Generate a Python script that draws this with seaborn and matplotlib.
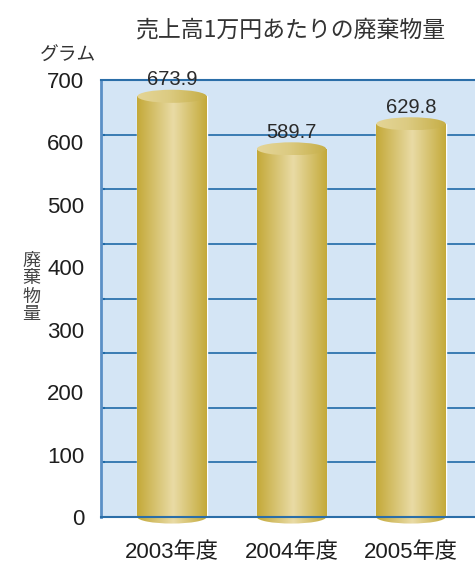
import numpy as np
import pandas as pd
import matplotlib
matplotlib.use("Agg")
import matplotlib.pyplot as plt
import seaborn as sns
from matplotlib.patches import Ellipse
from matplotlib.colors import LinearSegmentedColormap

# ---- data ----
years = ["2003年度", "2004年度", "2005年度"]
waste = [673.9, 589.7, 629.8]
ytick_values = [0, 100, 200, 300, 400, 500, 600, 700]
title = "売上高1万円あたりの廃棄物量"
unit_label = "グラム"
ylabel = "廃棄物量"

# ---- style ----
sns.set_theme(style="white")
plt.rcParams['font.family'] = ['Liberation Sans', 'Noto Sans CJK JP', 'DejaVu Sans']
TEXT = "#2a2a2a"
GRID = "#1f6aa8"
BG = "#d4e5f5"
BAR_W = 0.58
CAP_H = 21.0  # ellipse height in data units

body_cmap = LinearSegmentedColormap.from_list(
    "body", [(0.0, "#c4a938"), (0.52, "#e9dba5"), (1.0, "#c4aa3a")])
top_cmap = LinearSegmentedColormap.from_list(
    "top", [(0.0, "#e4d597"), (0.45, "#dccb82"), (1.0, "#c6ae46")])

fig = plt.figure(figsize=(4.75, 5.63), dpi=100)
ax = fig.add_axes([101 / 475, 1 - 517 / 563, 381.7 / 475, 437 / 563])

df = pd.DataFrame({"year": years, "waste": waste})
sns.barplot(data=df, x="year", y="waste", color="#c9b040", width=BAR_W,
            ax=ax, zorder=1, errorbar=None)

grad = np.linspace(0, 1, 256).reshape(1, -1)
bars = list(ax.patches)
for bar, val in zip(bars, waste):
    x0 = bar.get_x()
    w = bar.get_width()
    xc = x0 + w / 2
    h = bar.get_height()
    # body gradient
    im = ax.imshow(grad, cmap=body_cmap, extent=[x0, x0 + w, 0, h],
                   aspect="auto", zorder=1.2, interpolation="bicubic")
    im.set_clip_path(bar)
    # bottom ellipse (below the axis line)
    be = Ellipse((xc, 0), w, CAP_H, facecolor="none", edgecolor="none",
                 clip_on=False)
    ax.add_patch(be)
    imb = ax.imshow(grad, cmap=body_cmap,
                    extent=[x0, x0 + w, -CAP_H / 2, CAP_H / 2],
                    aspect="auto", zorder=1.1, interpolation="bicubic")
    imb.set_clip_path(be)
    imb.set_clip_box(fig.bbox)
    # top ellipse
    te = Ellipse((xc, h), w, CAP_H, facecolor="none", edgecolor="none",
                 clip_on=False)
    ax.add_patch(te)
    imt = ax.imshow(grad, cmap=top_cmap,
                    extent=[x0, x0 + w, h - CAP_H / 2, h + CAP_H / 2],
                    aspect="auto", zorder=1.3, interpolation="bicubic")
    imt.set_clip_path(te)
    imt.set_clip_box(fig.bbox)
    # value label
    ax.annotate(f"{val:.1f}", xy=(xc, h), xytext=(0, 8), textcoords="offset points",
                ha="center", va="baseline", fontsize=14.5, color=TEXT,
                annotation_clip=False, zorder=5)

ax.set_xlim(-0.594, 2.6)
ax.set_ylim(0, 700)
ax.set_facecolor(BG)
ax.set_xlabel("")
ax.set_ylabel("")

ax.set_yticks(ytick_values)
ax.set_yticklabels([str(v) for v in ytick_values])
ax.set_yticks(np.linspace(0, 700, 9), minor=True)
ax.set_axisbelow(True)
ax.yaxis.grid(False, which="major")
ax.yaxis.grid(True, which="minor", color=GRID, linewidth=1.2)
ax.tick_params(axis="y", which="major", length=0, pad=12, labelsize=16,
               labelcolor="#1e1e1e")
ax.tick_params(axis="y", which="minor", direction="in", length=3, width=1.5,
               color=GRID, left=True)
ax.tick_params(axis="x", length=0, pad=18, labelsize=16, labelcolor="#1e1e1e")

for s in ax.spines.values():
    s.set_color("#2b6ea8")
    s.set_linewidth(1.5)
    s.set_zorder(3)
ax.spines["left"].set_color("#5b90c6")
ax.spines["left"].set_linewidth(2)

fig.text(291 / 475, 1 - 30 / 563, title, ha="center", va="center",
         fontsize=16.5, color="#333333", family=["Noto Sans CJK JP", "DejaVu Sans"])
fig.text(68 / 475, 1 - 55 / 563, unit_label, ha="center", va="center",
         fontsize=13.5, color="#333333", family=["Noto Sans CJK JP", "DejaVu Sans"])
fig.text(31 / 475, 1 - 287.5 / 563, "\n".join(ylabel), ha="center", va="center",
         fontsize=13, linespacing=1.0, color="#444444",
         family=["Noto Sans CJK JP", "DejaVu Sans"])

fig.savefig("out.png", dpi=100)
